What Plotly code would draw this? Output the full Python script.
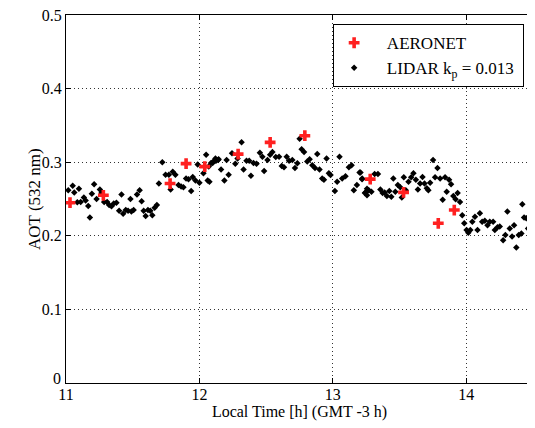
import plotly.graph_objects as go

# AERONET AOT (red)
aeronet_t = [11.03, 11.28, 11.78, 11.90, 12.04, 12.29, 12.53, 12.79, 13.28, 13.53, 13.79, 13.91]
aeronet_aot = [0.245, 0.255, 0.271, 0.298, 0.294, 0.311, 0.327, 0.336, 0.277, 0.259, 0.217, 0.235]

# LIDAR AOT (black)
lidar_t = [
    11.017, 11.05, 11.062, 11.097, 11.085, 11.11, 11.134, 11.147, 11.167, 11.179,
    11.194, 11.211, 11.229, 11.254, 11.266, 11.286, 11.308, 11.323, 11.341, 11.358,
    11.378, 11.398, 11.416, 11.428, 11.448, 11.465, 11.483, 11.49, 11.507, 11.532,
    11.552, 11.567, 11.582, 11.597, 11.614, 11.632, 11.647, 11.664, 11.681, 11.696,
    11.722, 11.746, 11.771, 11.784, 11.80, 11.82, 11.843, 11.863, 11.88, 11.90,
    11.918, 11.938, 11.95, 11.97, 11.987, 12.00, 12.03, 12.05, 12.062, 12.07,
    12.087, 12.104, 12.12, 12.14,
    12.075, 12.099, 12.124, 12.144, 12.162, 12.187, 12.204, 12.219, 12.244, 12.269,
    12.286, 12.316, 12.331, 12.353, 12.373, 12.386, 12.405, 12.428, 12.453, 12.472,
    12.485, 12.51, 12.53, 12.547, 12.572, 12.597, 12.617, 12.634, 12.654, 12.672,
    12.696, 12.716, 12.734, 12.751, 12.766, 12.784, 12.808, 12.826, 12.846, 12.866,
    12.883, 12.90, 12.92, 12.933, 12.953, 12.97, 12.983, 13.015, 13.032, 13.05,
    13.07, 13.095, 13.12, 13.14, 13.157, 13.18, 13.20, 13.22, 13.24, 13.256,
    13.207, 13.219, 13.244, 13.256, 13.269, 13.289, 13.313, 13.338, 13.356, 13.373,
    13.388, 13.405, 13.423, 13.438, 13.453, 13.468, 13.487, 13.505, 13.517, 13.532,
    13.547, 13.567, 13.587, 13.604, 13.622, 13.637, 13.654, 13.672, 13.687, 13.704,
    13.716, 13.729, 13.751, 13.766, 13.784, 13.804, 13.823, 13.841, 13.853, 13.871,
    13.886, 13.903, 13.92, 13.935, 13.953, 13.97, 13.985, 14.002, 14.015, 14.03,
    14.045, 14.065, 14.084, 14.102, 14.119, 14.139, 14.159, 14.176, 14.201, 14.214,
    14.234, 14.251, 14.276, 14.293, 14.308, 14.326, 14.343, 14.358, 14.375, 14.393,
    14.413, 14.42, 14.433, 14.45, 14.463, 14.48,
]
lidar_aot = [
    0.262, 0.268, 0.259, 0.264, 0.2455, 0.246, 0.252, 0.248, 0.2405, 0.225,
    0.257, 0.270, 0.250, 0.263, 0.258, 0.246, 0.246, 0.242, 0.240, 0.244,
    0.245, 0.234, 0.256, 0.230, 0.235, 0.234, 0.250, 0.233, 0.235, 0.256,
    0.262, 0.247, 0.234, 0.227, 0.235, 0.234, 0.228, 0.238, 0.242, 0.271,
    0.300, 0.283, 0.283, 0.263, 0.287, 0.283, 0.269, 0.267, 0.266, 0.278,
    0.277, 0.261, 0.280, 0.275, 0.297, 0.272, 0.285, 0.310, 0.275, 0.294,
    0.299, 0.301, 0.305, 0.303,
    0.2735, 0.299, 0.302, 0.304, 0.290, 0.275, 0.303, 0.283, 0.312, 0.298,
    0.305, 0.327, 0.290, 0.302, 0.302, 0.2815, 0.299, 0.298, 0.313, 0.3075,
    0.288, 0.303, 0.310, 0.314, 0.307, 0.3075, 0.295, 0.293, 0.3075, 0.302,
    0.303, 0.292, 0.2985, 0.332, 0.3175, 0.314, 0.301, 0.304, 0.296, 0.292,
    0.311, 0.290, 0.278, 0.276, 0.305, 0.285, 0.2825, 0.261, 0.2735, 0.3075,
    0.278, 0.281, 0.293, 0.296, 0.262, 0.269, 0.286, 0.278, 0.258, 0.264,
    0.286, 0.277, 0.259, 0.255, 0.262, 0.260, 0.284, 0.284, 0.263, 0.258,
    0.259, 0.254, 0.261, 0.253, 0.278, 0.260, 0.269, 0.266, 0.252, 0.2795,
    0.262, 0.2735, 0.2795, 0.285, 0.276, 0.263, 0.271, 0.280, 0.271, 0.2645,
    0.262, 0.272, 0.303, 0.2795, 0.292, 0.278, 0.249, 0.2795, 0.260, 0.276,
    0.270, 0.254, 0.2495, 0.258, 0.246, 0.228, 0.217, 0.208, 0.204, 0.208,
    0.219, 0.226, 0.208, 0.2305, 0.219, 0.2205, 0.2145, 0.219, 0.219, 0.208,
    0.2115, 0.2125, 0.194, 0.201, 0.233, 0.210, 0.199, 0.2145, 0.184, 0.201,
    0.203, 0.243, 0.225, 0.224, 0.210, 0.201,
]

x_ticks = [11, 12, 13, 14]
y_ticks = [0, 0.1, 0.2, 0.3, 0.4, 0.5]
y_tick_labels = ["", "0.1", "0.2", "0.3", "0.4", "0.5"]
y_zero_label = "0"
y_title = "AOT (532 nm)"
x_title = "Local Time [h] (GMT -3 h)"

font_family = "Liberation Serif, Times New Roman, serif"
NB = "\u00a0"

fig = go.Figure()
fig.add_trace(go.Scatter(
    x=lidar_t, y=lidar_aot, mode="markers",
    name=NB * 3 + "LIDAR k<sub>p</sub> = 0.013" + NB,
    marker=dict(symbol="diamond", size=5, color="black"),
    legendrank=2,
))
fig.add_trace(go.Scatter(
    x=aeronet_t, y=aeronet_aot, mode="markers",
    name=NB * 3 + "AERONET",
    marker=dict(symbol="cross", size=9, color="#ff2020"),
    legendrank=1,
))

axis_common = dict(
    showline=True, linecolor="black", linewidth=1, mirror="ticks",
    ticks="inside", ticklen=5, tickcolor="black",
    showgrid=True, gridcolor="#333333", griddash="1px,3px", gridwidth=1,
    zeroline=False, ticklabeloverflow="allow", automargin=False,
    tickfont=dict(family=font_family, size=16, color="black"),
)

# page body adds ~8px offset; compensate in size and margins
fig.update_layout(
    width=527, height=420,
    margin=dict(l=58, r=2, t=7, b=45),
    paper_bgcolor="white", plot_bgcolor="white",
    font=dict(family=font_family, size=16, color="black"),
    showlegend=True,
    legend=dict(
        x=0.572, y=0.975, xanchor="left", yanchor="top",
        bordercolor="black", borderwidth=1, bgcolor="white",
        font=dict(family=font_family, size=17, color="black"),
        itemwidth=30, tracegroupgap=0,
    ),
)
fig.update_xaxes(
    range=[11, 14.5], tickvals=x_ticks, ticktext=[str(v) for v in x_ticks],
    ticklabelstandoff=-3,
    title=dict(text=x_title, standoff=0,
               font=dict(family=font_family, size=16)),
    **axis_common,
)
fig.update_yaxes(
    range=[0, 0.5], tickvals=y_ticks, ticktext=y_tick_labels,
    **axis_common,
)
fig.add_annotation(
    x=11, y=0, xref="x", yref="y", text=y_zero_label, showarrow=False,
    xanchor="right", yanchor="middle", xshift=-3, yshift=5,
    font=dict(family=font_family, size=16, color="black"),
)
fig.add_annotation(
    x=0, y=0.5, xref="paper", yref="paper", text=y_title, showarrow=False,
    textangle=-90, xanchor="center", yanchor="middle", xshift=-32,
    font=dict(family=font_family, size=17, color="black"),
)

fig.write_html("out.html")
